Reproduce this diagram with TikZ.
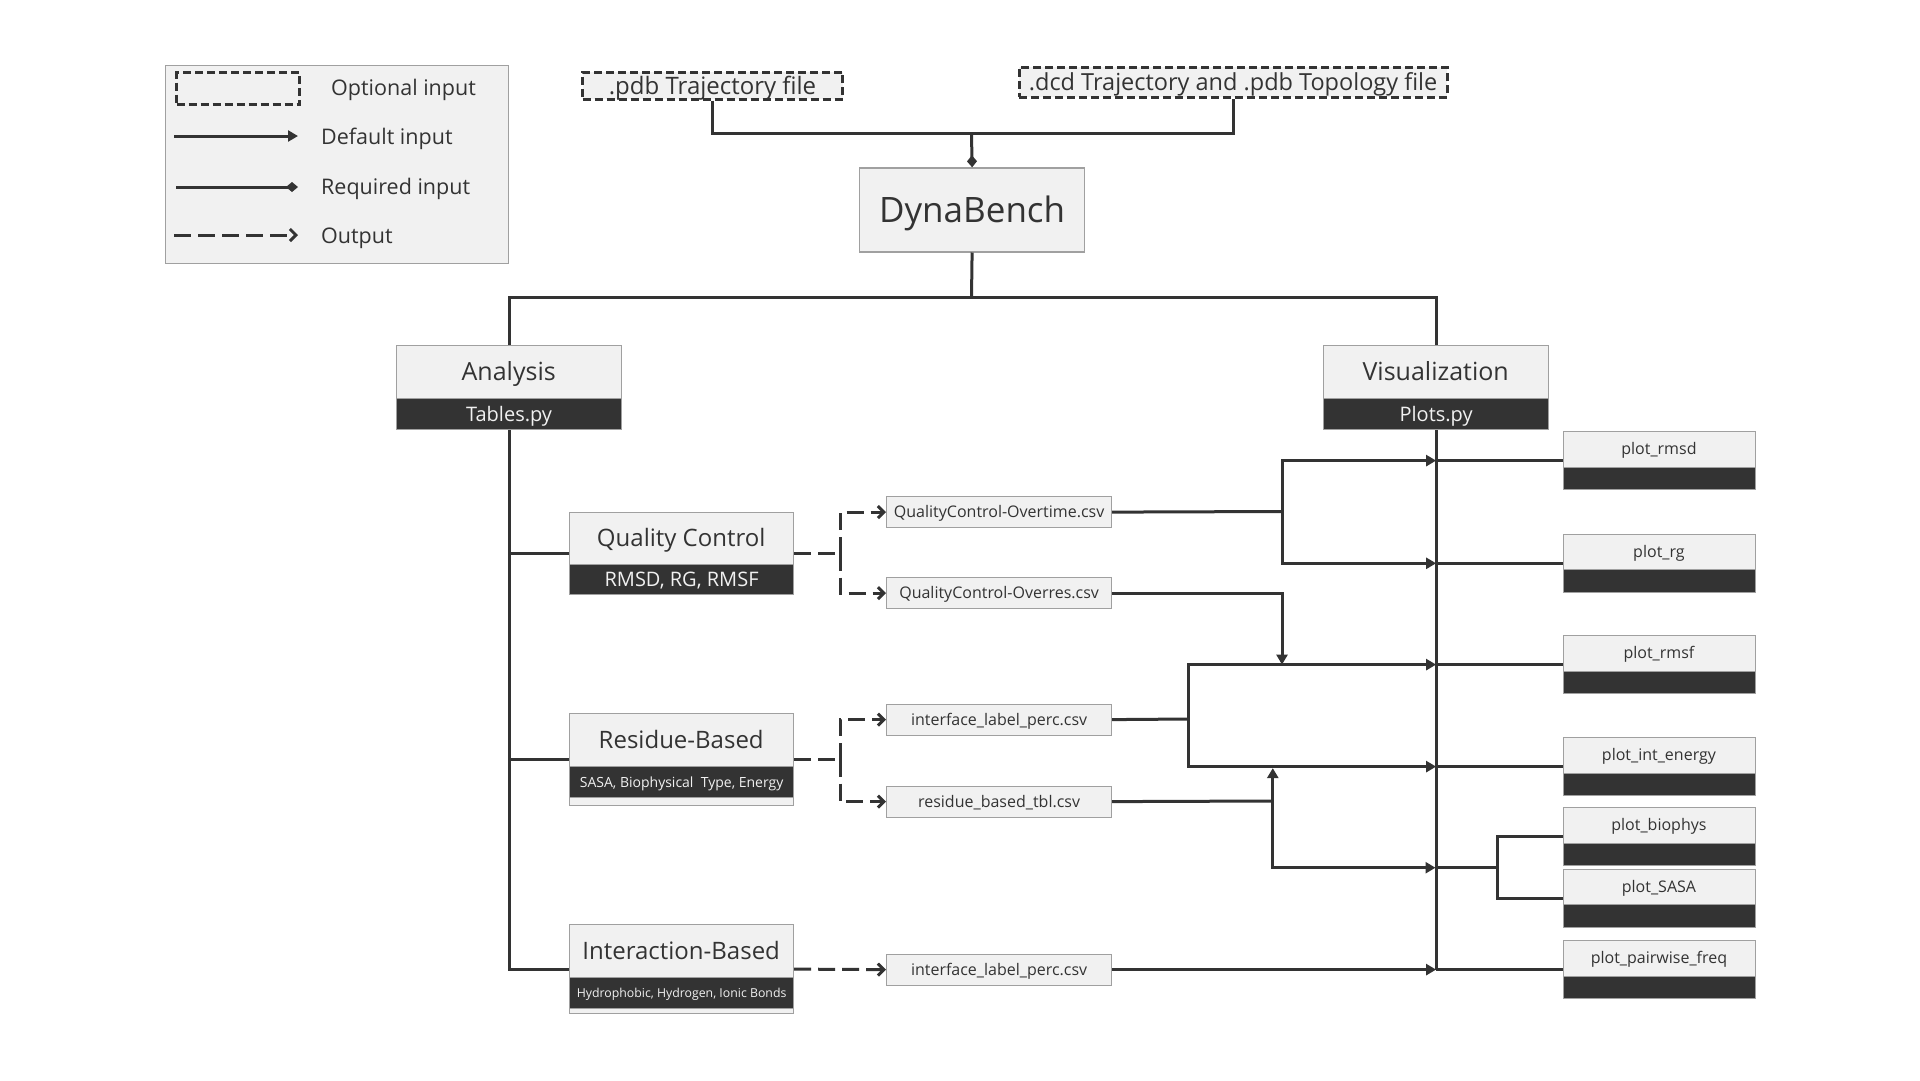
\documentclass[tikz,border=0pt]{standalone}
\usepackage{fontspec}
\setmainfont{Open Sans}
\usetikzlibrary{arrows.meta}
\definecolor{boxfill}{HTML}{F1F1F1}
\definecolor{boxline}{HTML}{A0A0A0}
\definecolor{ink}{HTML}{333333}
\tikzset{
  fs/.style={font=\fontsize{#1pt}{#1pt}\selectfont, text height=#1pt*0.714, text depth=0pt},
  lbox/.style={draw=boxline, line width=1.2pt, fill=boxfill, text=ink, inner sep=0pt, anchor=north west},
  tbox/.style={draw=none, fill=none, text=ink, inner sep=0pt, anchor=north west},
  dbox/.style={draw=boxline, line width=1.2pt, fill=ink, text=boxfill, inner sep=0pt, anchor=north west},
  optbox/.style={draw=ink, line width=3pt, dash pattern=on 8pt off 4pt, fill=boxfill, text=ink, inner sep=0pt, anchor=north west},
  legtext/.style={text=ink, inner sep=0pt, anchor=base west, font=\fontsize{21.5pt}{24pt}\selectfont},
  conn/.style={draw=ink, line width=3pt},
  tri/.style={-{Triangle[length=10pt,width=11pt]}},
  req/.style={-{Diamond[length=12pt,width=10pt]}},
  outarr/.style={conn, dash pattern=on 17pt off 7pt, -{Straight Barb[length=6pt,width=12pt]}},
  outline/.style={conn, dash pattern=on 17pt off 7pt},
  csv/.style={lbox, minimum width=225pt, minimum height=31pt, fs=16},
  plotbox/.style={lbox, minimum width=191.5pt, minimum height=58pt},
  plottext/.style={tbox, minimum width=191.5pt, minimum height=35.5pt, fs=16},
  plotband/.style={dbox, minimum width=191.5pt, minimum height=22.5pt},
}
\begin{document}
\begin{tikzpicture}[x=1pt,y=-1pt]
\useasboundingbox (0,0) rectangle (1920,1080);
\fill[white] (0,0) rectangle (1920,1080);

% ---------- legend ----------
\node[lbox, minimum width=343pt, minimum height=198pt] (leg) at (164.5,65) {};
\node[optbox, minimum width=123pt, minimum height=32pt] (legopt) at (175,71) {};
\node[legtext] (legoptt) at (331,95) {Optional input};
\coordinate (ld1) at (174,136); \coordinate (ld2) at (298,136);
\draw[conn,tri] (ld1) -- (ld2);
\node[legtext] (legdeft) at (321,144.3) {Default input};
\coordinate (lr1) at (176,187); \coordinate (lr2) at (298,187);
\draw[conn,req] (lr1) -- (lr2);
\node[legtext] (legreqt) at (321,194.3) {Required input};
\coordinate (lo1) at (174,235); \coordinate (lo2) at (298,235);
\draw[outarr] (lo1) -- (lo2);
\node[legtext] (legoutt) at (321,243.3) {Output};

% ---------- inputs ----------
\node[optbox, minimum width=260pt, minimum height=27pt, fs=24] (pdb) at (581,70.7) {.pdb Trajectory file};
\node[optbox, minimum width=428pt, minimum height=30pt, fs=23.5] (dcd) at (1017.6,65.7) {.dcd Trajectory and .pdb Topology file};
\node[lbox, minimum width=225pt, minimum height=84pt, fs=35] (dyn) at (859,167.3) {DynaBench};

\coordinate (topj) at (971.5,133.3);
\draw[conn] (pdb.south) |- (topj) -| (dcd.south);
\draw[conn,req] (topj) -- (dyn.north);

% ---------- Analysis / Visualization ----------
\node[lbox, minimum width=225pt, minimum height=84pt] (ana) at (396,345) {};
\node[tbox, minimum width=225pt, minimum height=53pt, fs=25] (anat) at (396,345) {Analysis};
\node[dbox, minimum width=225pt, minimum height=31pt, fs=20] (anab) at (396,398) {Tables.py};

\node[lbox, minimum width=225pt, minimum height=84pt] (vis) at (1323,345) {};
\node[tbox, minimum width=225pt, minimum height=53pt, fs=25] (vist) at (1323,345) {Visualization};
\node[dbox, minimum width=225pt, minimum height=31pt, fs=20] (visb) at (1323,398) {Plots.py};

\coordinate (split) at (971.5,297);
\draw[conn] (dyn.south) -- (split);
\draw[conn] (ana.north) |- (split) -| (vis.north);

% ---------- analysis modules ----------
\node[lbox, minimum width=224pt, minimum height=82pt] (qc) at (569,512) {};
\node[tbox, minimum width=224pt, minimum height=52pt, fs=24] (qct) at (569,512) {Quality Control};
\node[dbox, minimum width=224pt, minimum height=30pt, fs=20] (qcb) at (569,564) {RMSD, RG, RMSF};

\node[lbox, minimum width=224pt, minimum height=92pt] (rb) at (569,713) {};
\node[tbox, minimum width=224pt, minimum height=53pt, fs=24] (rbt) at (569,713) {Residue-Based};
\node[dbox, minimum width=224pt, minimum height=31pt, fs=14] (rbb) at (569,766) {SASA, Biophysical\ \ Type, Energy};

\node[lbox, minimum width=224pt, minimum height=89pt] (ib) at (569,924) {};
\node[tbox, minimum width=224pt, minimum height=53pt, fs=24] (ibt) at (569,924) {Interaction-Based};
\node[dbox, minimum width=224pt, minimum height=31pt, fs=12.3] (ibb) at (569,977) {Hydrophobic, Hydrogen, Ionic Bonds};

\draw[conn] (ana.south) |- (ib.west);
\draw[conn] (ana.south |- qc.west) -- (qc.west);
\draw[conn] (ana.south |- rb.west) -- (rb.west);

% ---------- csv outputs ----------
\node[csv] (csv1) at (886,496) {QualityControl-Overtime.csv};
\node[csv] (csv2) at (886,577) {QualityControl-Overres.csv};
\node[csv] (csv3) at (886,703.5) {interface\_label\_perc.csv};
\node[csv] (csv4) at (886,785.5) {residue\_based\_tbl.csv};
\node[csv] (csv5) at (886,953.5) {interface\_label\_perc.csv};

\draw[outline] (qc.east) -- ++(46,0) coordinate (qcj);
\draw[outarr] (qcj) |- (csv1.west);
\draw[outarr] (qcj) |- (csv2.west);
\draw[outline] (rb.east) -- ++(46,0) coordinate (rbj);
\draw[outarr] (rbj) |- (csv3.west);
\draw[outarr] (rbj) |- (csv4.west);
\draw[outarr] (ib.east) -- (csv5.west);

% ---------- plots ----------
\foreach \n/\t/\lab in {p1/431/plot\_rmsd, p2/533.7/plot\_rg, p3/635/plot\_rmsf, p4/737/plot\_int\_energy, p5/807/plot\_biophys, p6/868.7/plot\_SASA, p7/940/plot\_pairwise\_freq}{
  \node[plotbox] (\n) at (1563,\t) {};
  \node[plottext] (\n t) at (1563,\t) {\lab};
  \node[plotband] (\n b) at (1563,\t+35.5) {};
}

\draw[conn] (vis.south) -- (vis.south |- p7.west);
\foreach \n in {p1,p2,p3,p4,p7}{
  \draw[conn] (vis.south |- \n.west) -- (\n.west);
}
\coordinate (vj) at (1435.5,867.7);
\coordinate (bj) at (1497,867.7);
\draw[conn] (vj) -- (bj);
\draw[conn] (bj) |- (p5.west);
\draw[conn] (bj) |- (p6.west);

% ---------- csv to visualization ----------
\coordinate (j1) at (1282,511.5);
\draw[conn] (csv1.east) -- (j1);
\draw[conn,tri] (j1) |- (vis.south |- p1.west);
\draw[conn,tri] (j1) |- (vis.south |- p2.west);

\draw[conn,tri] (csv2.east) -| (j1 |- p3.west);

\coordinate (j3) at (1188,719);
\draw[conn] (csv3.east) -- (j3);
\draw[conn,tri] (j3) |- (vis.south |- p3.west);
\draw[conn,tri] (j3) |- (vis.south |- p4.west);

\coordinate (j4) at (1272.8,801);
\draw[conn] (csv4.east) -- (j4);
\draw[conn,tri,shorten >=1.5pt] (j4) -- (j4 |- p4.west);
\draw[conn,tri] (j4) |- (vj);

\draw[conn,tri] (csv5.east) -- (vis.south |- csv5.east);
\end{tikzpicture}
\end{document}
